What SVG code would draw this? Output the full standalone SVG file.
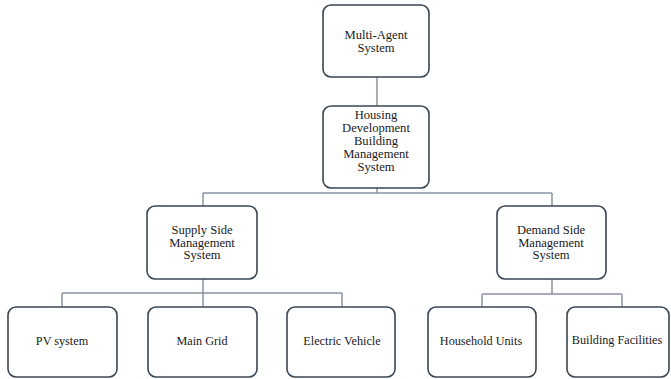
<svg xmlns="http://www.w3.org/2000/svg" width="671" height="379" viewBox="0 0 671 379">
  <style>
    .box { fill: #ffffff; stroke: #3b4554; stroke-width: 1.6; }
    .wire { fill: none; stroke: #8a94a3; stroke-width: 1.5; }
  </style>
  <rect width="671" height="379" fill="#ffffff"/>

  <!-- connectors -->
  <g id="connectors">
    <path class="wire" d="M377 77 V106"/>
    <path class="wire" d="M377 188 V193 M203 193 H552 M203 193 V206 M552 193 V206"/>
    <path class="wire" d="M203 279 V293 M62 293 H342 M62 293 V307 M203 293 V307 M342 293 V307"/>
    <path class="wire" d="M552 279 V294 M482 294 H622 M482 294 V307 M622 294 V307"/>
  </g>

  <g font-family="'Liberation Serif', 'DejaVu Serif', serif" font-size="12.6" fill="#1a1a1a" text-anchor="middle">
  <g id="multi-agent">
    <rect class="box" x="323" y="5" width="106" height="72" rx="8"/>
    <text x="376" y="39">Multi-Agent</text>
    <text x="376" y="52">System</text>
  </g>

  <g id="housing">
    <rect class="box" x="323" y="106" width="106" height="82" rx="8"/>
    <text x="376" y="119">Housing</text>
    <text x="376" y="132">Development</text>
    <text x="376" y="145">Building</text>
    <text x="376" y="158">Management</text>
    <text x="376" y="171">System</text>
  </g>

  <g id="supply-side">
    <rect class="box" x="147" y="206" width="110" height="73" rx="8"/>
    <text x="202" y="234">Supply Side</text>
    <text x="202" y="246.5">Management</text>
    <text x="202" y="259">System</text>
  </g>

  <g id="demand-side">
    <rect class="box" x="497" y="206" width="109" height="73" rx="8"/>
    <text x="551" y="234">Demand Side</text>
    <text x="551" y="246.5">Management</text>
    <text x="551" y="259">System</text>
  </g>

  <g font-size="12.2">
  <g id="pv-system">
    <rect class="box" x="8" y="307" width="109" height="70" rx="8"/>
    <text x="62" y="344.5">PV  system</text>
  </g>

  <g id="main-grid">
    <rect class="box" x="148" y="307" width="109" height="70" rx="8"/>
    <text x="202" y="344.5">Main Grid</text>
  </g>

  <g id="electric-vehicle">
    <rect class="box" x="287" y="307" width="108" height="70" rx="8"/>
    <text x="342" y="344.5">Electric  Vehicle</text>
  </g>

  <g id="household-units">
    <rect class="box" x="428" y="307" width="108" height="70" rx="8"/>
    <text x="481" y="344.5">Household Units</text>
  </g>

  <g id="building-facilities">
    <rect class="box" x="567" y="307" width="102" height="70" rx="8"/>
    <text x="617" y="344">Building Facilities</text>
  </g>
  </g>
  </g>
</svg>
